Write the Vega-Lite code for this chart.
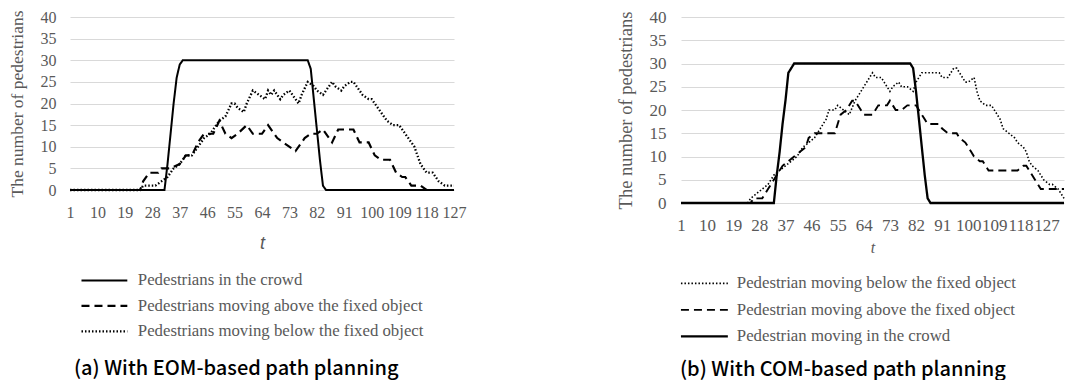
{
  "$schema": "https://vega.github.io/schema/vega-lite/v6.json",
  "background": "white",
  "padding": {"left": 8, "top": 8, "right": 0, "bottom": 0},
  "spacing": 150,
  "config": {
    "view": {"stroke": null},
    "font": "Liberation Serif",
    "axis": {"labelColor": "#595959", "titleColor": "#595959", "labelFont": "Liberation Serif", "titleFont": "Liberation Serif", "ticks": false, "tickSize": 0, "domain": false, "titleFontWeight": "normal", "gridColor": "#d9d9d9", "gridWidth": 1},
    "legend": {"labelColor": "#595959", "labelFont": "Liberation Serif", "orient": "none", "padding": 0, "symbolType": "M-10,0L10,0", "symbolStrokeColor": "black", "symbolStrokeWidth": 2, "labelLimit": 400},
    "title": {"font": "Noto Sans CJK KR", "fontWeight": 500, "color": "#000000", "fontSize": 20}
  },
  "datasets": {
    "a": [
      {"s": "Pedestrians in the crowd", "t": 1, "v": 0},
      {"s": "Pedestrians in the crowd", "t": 32, "v": 0},
      {"s": "Pedestrians in the crowd", "t": 33, "v": 6},
      {"s": "Pedestrians in the crowd", "t": 34, "v": 13},
      {"s": "Pedestrians in the crowd", "t": 35, "v": 20},
      {"s": "Pedestrians in the crowd", "t": 36, "v": 26},
      {"s": "Pedestrians in the crowd", "t": 37, "v": 29},
      {"s": "Pedestrians in the crowd", "t": 38, "v": 30},
      {"s": "Pedestrians in the crowd", "t": 79, "v": 30},
      {"s": "Pedestrians in the crowd", "t": 80, "v": 28},
      {"s": "Pedestrians in the crowd", "t": 81, "v": 21},
      {"s": "Pedestrians in the crowd", "t": 82, "v": 14},
      {"s": "Pedestrians in the crowd", "t": 83, "v": 7},
      {"s": "Pedestrians in the crowd", "t": 84, "v": 1},
      {"s": "Pedestrians in the crowd", "t": 85, "v": 0},
      {"s": "Pedestrians in the crowd", "t": 127, "v": 0},

      {"s": "Pedestrians moving above the fixed object", "t": 1, "v": 0},
      {"s": "Pedestrians moving above the fixed object", "t": 24, "v": 0},
      {"s": "Pedestrians moving above the fixed object", "t": 25, "v": 2},
      {"s": "Pedestrians moving above the fixed object", "t": 27, "v": 4},
      {"s": "Pedestrians moving above the fixed object", "t": 30, "v": 4},
      {"s": "Pedestrians moving above the fixed object", "t": 31, "v": 5},
      {"s": "Pedestrians moving above the fixed object", "t": 34, "v": 5},
      {"s": "Pedestrians moving above the fixed object", "t": 37, "v": 6},
      {"s": "Pedestrians moving above the fixed object", "t": 39, "v": 8},
      {"s": "Pedestrians moving above the fixed object", "t": 41, "v": 8},
      {"s": "Pedestrians moving above the fixed object", "t": 43, "v": 11},
      {"s": "Pedestrians moving above the fixed object", "t": 45, "v": 13},
      {"s": "Pedestrians moving above the fixed object", "t": 48, "v": 13},
      {"s": "Pedestrians moving above the fixed object", "t": 50, "v": 16},
      {"s": "Pedestrians moving above the fixed object", "t": 52, "v": 13},
      {"s": "Pedestrians moving above the fixed object", "t": 54, "v": 12},
      {"s": "Pedestrians moving above the fixed object", "t": 56, "v": 13},
      {"s": "Pedestrians moving above the fixed object", "t": 59, "v": 15},
      {"s": "Pedestrians moving above the fixed object", "t": 61, "v": 13},
      {"s": "Pedestrians moving above the fixed object", "t": 64, "v": 13},
      {"s": "Pedestrians moving above the fixed object", "t": 66, "v": 15},
      {"s": "Pedestrians moving above the fixed object", "t": 69, "v": 12},
      {"s": "Pedestrians moving above the fixed object", "t": 71, "v": 11},
      {"s": "Pedestrians moving above the fixed object", "t": 75, "v": 9},
      {"s": "Pedestrians moving above the fixed object", "t": 78, "v": 12},
      {"s": "Pedestrians moving above the fixed object", "t": 80, "v": 13},
      {"s": "Pedestrians moving above the fixed object", "t": 82, "v": 13},
      {"s": "Pedestrians moving above the fixed object", "t": 84, "v": 14},
      {"s": "Pedestrians moving above the fixed object", "t": 86, "v": 12},
      {"s": "Pedestrians moving above the fixed object", "t": 87, "v": 11},
      {"s": "Pedestrians moving above the fixed object", "t": 89, "v": 14},
      {"s": "Pedestrians moving above the fixed object", "t": 94, "v": 14},
      {"s": "Pedestrians moving above the fixed object", "t": 96, "v": 11},
      {"s": "Pedestrians moving above the fixed object", "t": 99, "v": 11},
      {"s": "Pedestrians moving above the fixed object", "t": 101, "v": 8},
      {"s": "Pedestrians moving above the fixed object", "t": 103, "v": 7},
      {"s": "Pedestrians moving above the fixed object", "t": 106, "v": 7},
      {"s": "Pedestrians moving above the fixed object", "t": 108, "v": 4},
      {"s": "Pedestrians moving above the fixed object", "t": 110, "v": 3},
      {"s": "Pedestrians moving above the fixed object", "t": 111, "v": 3},
      {"s": "Pedestrians moving above the fixed object", "t": 113, "v": 1},
      {"s": "Pedestrians moving above the fixed object", "t": 116, "v": 1},
      {"s": "Pedestrians moving above the fixed object", "t": 118, "v": 0},
      {"s": "Pedestrians moving above the fixed object", "t": 127, "v": 0},

      {"s": "Pedestrians moving below the fixed object", "t": 1, "v": 0},
      {"s": "Pedestrians moving below the fixed object", "t": 24, "v": 0},
      {"s": "Pedestrians moving below the fixed object", "t": 25, "v": 1},
      {"s": "Pedestrians moving below the fixed object", "t": 29, "v": 1},
      {"s": "Pedestrians moving below the fixed object", "t": 31, "v": 2},
      {"s": "Pedestrians moving below the fixed object", "t": 33, "v": 3},
      {"s": "Pedestrians moving below the fixed object", "t": 35, "v": 5},
      {"s": "Pedestrians moving below the fixed object", "t": 37, "v": 6},
      {"s": "Pedestrians moving below the fixed object", "t": 39, "v": 8},
      {"s": "Pedestrians moving below the fixed object", "t": 41, "v": 8},
      {"s": "Pedestrians moving below the fixed object", "t": 43, "v": 10},
      {"s": "Pedestrians moving below the fixed object", "t": 45, "v": 12},
      {"s": "Pedestrians moving below the fixed object", "t": 47, "v": 13},
      {"s": "Pedestrians moving below the fixed object", "t": 49, "v": 15},
      {"s": "Pedestrians moving below the fixed object", "t": 50, "v": 16},
      {"s": "Pedestrians moving below the fixed object", "t": 52, "v": 17},
      {"s": "Pedestrians moving below the fixed object", "t": 54, "v": 20},
      {"s": "Pedestrians moving below the fixed object", "t": 55, "v": 20},
      {"s": "Pedestrians moving below the fixed object", "t": 56, "v": 19},
      {"s": "Pedestrians moving below the fixed object", "t": 58, "v": 18},
      {"s": "Pedestrians moving below the fixed object", "t": 59, "v": 20},
      {"s": "Pedestrians moving below the fixed object", "t": 61, "v": 23},
      {"s": "Pedestrians moving below the fixed object", "t": 63, "v": 22},
      {"s": "Pedestrians moving below the fixed object", "t": 65, "v": 21},
      {"s": "Pedestrians moving below the fixed object", "t": 66, "v": 23},
      {"s": "Pedestrians moving below the fixed object", "t": 67, "v": 22},
      {"s": "Pedestrians moving below the fixed object", "t": 68, "v": 23},
      {"s": "Pedestrians moving below the fixed object", "t": 70, "v": 21},
      {"s": "Pedestrians moving below the fixed object", "t": 71, "v": 22},
      {"s": "Pedestrians moving below the fixed object", "t": 73, "v": 23},
      {"s": "Pedestrians moving below the fixed object", "t": 74, "v": 22},
      {"s": "Pedestrians moving below the fixed object", "t": 76, "v": 20},
      {"s": "Pedestrians moving below the fixed object", "t": 77, "v": 22},
      {"s": "Pedestrians moving below the fixed object", "t": 79, "v": 25},
      {"s": "Pedestrians moving below the fixed object", "t": 81, "v": 24},
      {"s": "Pedestrians moving below the fixed object", "t": 82, "v": 23},
      {"s": "Pedestrians moving below the fixed object", "t": 84, "v": 22},
      {"s": "Pedestrians moving below the fixed object", "t": 85, "v": 23},
      {"s": "Pedestrians moving below the fixed object", "t": 87, "v": 25},
      {"s": "Pedestrians moving below the fixed object", "t": 88, "v": 24},
      {"s": "Pedestrians moving below the fixed object", "t": 90, "v": 23},
      {"s": "Pedestrians moving below the fixed object", "t": 91, "v": 24},
      {"s": "Pedestrians moving below the fixed object", "t": 93, "v": 25},
      {"s": "Pedestrians moving below the fixed object", "t": 94, "v": 25},
      {"s": "Pedestrians moving below the fixed object", "t": 95, "v": 24},
      {"s": "Pedestrians moving below the fixed object", "t": 96, "v": 23},
      {"s": "Pedestrians moving below the fixed object", "t": 97, "v": 22},
      {"s": "Pedestrians moving below the fixed object", "t": 99, "v": 21},
      {"s": "Pedestrians moving below the fixed object", "t": 100, "v": 21},
      {"s": "Pedestrians moving below the fixed object", "t": 102, "v": 19},
      {"s": "Pedestrians moving below the fixed object", "t": 104, "v": 17},
      {"s": "Pedestrians moving below the fixed object", "t": 105, "v": 16},
      {"s": "Pedestrians moving below the fixed object", "t": 107, "v": 15},
      {"s": "Pedestrians moving below the fixed object", "t": 109, "v": 15},
      {"s": "Pedestrians moving below the fixed object", "t": 110, "v": 14},
      {"s": "Pedestrians moving below the fixed object", "t": 111, "v": 13},
      {"s": "Pedestrians moving below the fixed object", "t": 113, "v": 11},
      {"s": "Pedestrians moving below the fixed object", "t": 114, "v": 10},
      {"s": "Pedestrians moving below the fixed object", "t": 115, "v": 8},
      {"s": "Pedestrians moving below the fixed object", "t": 116, "v": 6},
      {"s": "Pedestrians moving below the fixed object", "t": 117, "v": 5},
      {"s": "Pedestrians moving below the fixed object", "t": 118, "v": 4},
      {"s": "Pedestrians moving below the fixed object", "t": 120, "v": 4},
      {"s": "Pedestrians moving below the fixed object", "t": 121, "v": 3},
      {"s": "Pedestrians moving below the fixed object", "t": 122, "v": 2},
      {"s": "Pedestrians moving below the fixed object", "t": 124, "v": 1},
      {"s": "Pedestrians moving below the fixed object", "t": 127, "v": 1}
    ],
    "b": [
      {"s": "Pedestrian moving in the crowd", "t": 1, "v": 0},
      {"s": "Pedestrian moving in the crowd", "t": 33, "v": 0},
      {"s": "Pedestrian moving in the crowd", "t": 34, "v": 6},
      {"s": "Pedestrian moving in the crowd", "t": 35, "v": 11},
      {"s": "Pedestrian moving in the crowd", "t": 36, "v": 17},
      {"s": "Pedestrian moving in the crowd", "t": 37, "v": 22},
      {"s": "Pedestrian moving in the crowd", "t": 38, "v": 28},
      {"s": "Pedestrian moving in the crowd", "t": 39, "v": 29},
      {"s": "Pedestrian moving in the crowd", "t": 40, "v": 30},
      {"s": "Pedestrian moving in the crowd", "t": 80, "v": 30},
      {"s": "Pedestrian moving in the crowd", "t": 81, "v": 29},
      {"s": "Pedestrian moving in the crowd", "t": 82, "v": 24},
      {"s": "Pedestrian moving in the crowd", "t": 83, "v": 18},
      {"s": "Pedestrian moving in the crowd", "t": 84, "v": 12},
      {"s": "Pedestrian moving in the crowd", "t": 85, "v": 6},
      {"s": "Pedestrian moving in the crowd", "t": 86, "v": 1},
      {"s": "Pedestrian moving in the crowd", "t": 87, "v": 0},
      {"s": "Pedestrian moving in the crowd", "t": 133, "v": 0},

      {"s": "Pedestrian moving above the fixed object", "t": 1, "v": 0},
      {"s": "Pedestrian moving above the fixed object", "t": 25, "v": 0},
      {"s": "Pedestrian moving above the fixed object", "t": 26, "v": 1},
      {"s": "Pedestrian moving above the fixed object", "t": 29, "v": 1},
      {"s": "Pedestrian moving above the fixed object", "t": 30, "v": 2},
      {"s": "Pedestrian moving above the fixed object", "t": 31, "v": 3},
      {"s": "Pedestrian moving above the fixed object", "t": 32, "v": 4},
      {"s": "Pedestrian moving above the fixed object", "t": 33, "v": 5},
      {"s": "Pedestrian moving above the fixed object", "t": 34, "v": 6},
      {"s": "Pedestrian moving above the fixed object", "t": 36, "v": 8},
      {"s": "Pedestrian moving above the fixed object", "t": 38, "v": 9},
      {"s": "Pedestrian moving above the fixed object", "t": 40, "v": 10},
      {"s": "Pedestrian moving above the fixed object", "t": 42, "v": 11},
      {"s": "Pedestrian moving above the fixed object", "t": 44, "v": 12},
      {"s": "Pedestrian moving above the fixed object", "t": 45, "v": 14},
      {"s": "Pedestrian moving above the fixed object", "t": 47, "v": 15},
      {"s": "Pedestrian moving above the fixed object", "t": 54, "v": 15},
      {"s": "Pedestrian moving above the fixed object", "t": 55, "v": 17},
      {"s": "Pedestrian moving above the fixed object", "t": 56, "v": 19},
      {"s": "Pedestrian moving above the fixed object", "t": 58, "v": 20},
      {"s": "Pedestrian moving above the fixed object", "t": 60, "v": 22},
      {"s": "Pedestrian moving above the fixed object", "t": 61, "v": 22},
      {"s": "Pedestrian moving above the fixed object", "t": 63, "v": 20},
      {"s": "Pedestrian moving above the fixed object", "t": 64, "v": 19},
      {"s": "Pedestrian moving above the fixed object", "t": 67, "v": 19},
      {"s": "Pedestrian moving above the fixed object", "t": 69, "v": 21},
      {"s": "Pedestrian moving above the fixed object", "t": 72, "v": 21},
      {"s": "Pedestrian moving above the fixed object", "t": 73, "v": 22},
      {"s": "Pedestrian moving above the fixed object", "t": 75, "v": 20},
      {"s": "Pedestrian moving above the fixed object", "t": 77, "v": 20},
      {"s": "Pedestrian moving above the fixed object", "t": 79, "v": 21},
      {"s": "Pedestrian moving above the fixed object", "t": 82, "v": 21},
      {"s": "Pedestrian moving above the fixed object", "t": 83, "v": 20},
      {"s": "Pedestrian moving above the fixed object", "t": 85, "v": 18},
      {"s": "Pedestrian moving above the fixed object", "t": 86, "v": 17},
      {"s": "Pedestrian moving above the fixed object", "t": 90, "v": 17},
      {"s": "Pedestrian moving above the fixed object", "t": 91, "v": 16},
      {"s": "Pedestrian moving above the fixed object", "t": 93, "v": 15},
      {"s": "Pedestrian moving above the fixed object", "t": 96, "v": 15},
      {"s": "Pedestrian moving above the fixed object", "t": 97, "v": 14},
      {"s": "Pedestrian moving above the fixed object", "t": 99, "v": 13},
      {"s": "Pedestrian moving above the fixed object", "t": 100, "v": 12},
      {"s": "Pedestrian moving above the fixed object", "t": 101, "v": 11},
      {"s": "Pedestrian moving above the fixed object", "t": 102, "v": 10},
      {"s": "Pedestrian moving above the fixed object", "t": 104, "v": 9},
      {"s": "Pedestrian moving above the fixed object", "t": 105, "v": 9},
      {"s": "Pedestrian moving above the fixed object", "t": 106, "v": 8},
      {"s": "Pedestrian moving above the fixed object", "t": 107, "v": 7},
      {"s": "Pedestrian moving above the fixed object", "t": 117, "v": 7},
      {"s": "Pedestrian moving above the fixed object", "t": 119, "v": 8},
      {"s": "Pedestrian moving above the fixed object", "t": 120, "v": 8},
      {"s": "Pedestrian moving above the fixed object", "t": 121, "v": 7},
      {"s": "Pedestrian moving above the fixed object", "t": 122, "v": 6},
      {"s": "Pedestrian moving above the fixed object", "t": 123, "v": 5},
      {"s": "Pedestrian moving above the fixed object", "t": 124, "v": 4},
      {"s": "Pedestrian moving above the fixed object", "t": 125, "v": 3},
      {"s": "Pedestrian moving above the fixed object", "t": 133, "v": 3},

      {"s": "Pedestrian moving below the fixed object", "t": 1, "v": 0},
      {"s": "Pedestrian moving below the fixed object", "t": 24, "v": 0},
      {"s": "Pedestrian moving below the fixed object", "t": 25, "v": 1},
      {"s": "Pedestrian moving below the fixed object", "t": 27, "v": 2},
      {"s": "Pedestrian moving below the fixed object", "t": 29, "v": 3},
      {"s": "Pedestrian moving below the fixed object", "t": 31, "v": 4},
      {"s": "Pedestrian moving below the fixed object", "t": 33, "v": 6},
      {"s": "Pedestrian moving below the fixed object", "t": 35, "v": 7},
      {"s": "Pedestrian moving below the fixed object", "t": 37, "v": 8},
      {"s": "Pedestrian moving below the fixed object", "t": 39, "v": 9},
      {"s": "Pedestrian moving below the fixed object", "t": 41, "v": 10},
      {"s": "Pedestrian moving below the fixed object", "t": 43, "v": 12},
      {"s": "Pedestrian moving below the fixed object", "t": 45, "v": 13},
      {"s": "Pedestrian moving below the fixed object", "t": 47, "v": 14},
      {"s": "Pedestrian moving below the fixed object", "t": 49, "v": 16},
      {"s": "Pedestrian moving below the fixed object", "t": 51, "v": 18},
      {"s": "Pedestrian moving below the fixed object", "t": 52, "v": 20},
      {"s": "Pedestrian moving below the fixed object", "t": 54, "v": 20},
      {"s": "Pedestrian moving below the fixed object", "t": 55, "v": 21},
      {"s": "Pedestrian moving below the fixed object", "t": 57, "v": 20},
      {"s": "Pedestrian moving below the fixed object", "t": 59, "v": 19},
      {"s": "Pedestrian moving below the fixed object", "t": 61, "v": 22},
      {"s": "Pedestrian moving below the fixed object", "t": 62, "v": 23},
      {"s": "Pedestrian moving below the fixed object", "t": 64, "v": 25},
      {"s": "Pedestrian moving below the fixed object", "t": 66, "v": 27},
      {"s": "Pedestrian moving below the fixed object", "t": 67, "v": 28},
      {"s": "Pedestrian moving below the fixed object", "t": 68, "v": 27},
      {"s": "Pedestrian moving below the fixed object", "t": 70, "v": 27},
      {"s": "Pedestrian moving below the fixed object", "t": 71, "v": 26},
      {"s": "Pedestrian moving below the fixed object", "t": 73, "v": 24},
      {"s": "Pedestrian moving below the fixed object", "t": 74, "v": 25},
      {"s": "Pedestrian moving below the fixed object", "t": 76, "v": 26},
      {"s": "Pedestrian moving below the fixed object", "t": 77, "v": 25},
      {"s": "Pedestrian moving below the fixed object", "t": 79, "v": 25},
      {"s": "Pedestrian moving below the fixed object", "t": 81, "v": 24},
      {"s": "Pedestrian moving below the fixed object", "t": 82, "v": 26},
      {"s": "Pedestrian moving below the fixed object", "t": 84, "v": 28},
      {"s": "Pedestrian moving below the fixed object", "t": 90, "v": 28},
      {"s": "Pedestrian moving below the fixed object", "t": 91, "v": 27},
      {"s": "Pedestrian moving below the fixed object", "t": 93, "v": 27},
      {"s": "Pedestrian moving below the fixed object", "t": 95, "v": 29},
      {"s": "Pedestrian moving below the fixed object", "t": 96, "v": 29},
      {"s": "Pedestrian moving below the fixed object", "t": 97, "v": 28},
      {"s": "Pedestrian moving below the fixed object", "t": 99, "v": 26},
      {"s": "Pedestrian moving below the fixed object", "t": 100, "v": 26},
      {"s": "Pedestrian moving below the fixed object", "t": 102, "v": 27},
      {"s": "Pedestrian moving below the fixed object", "t": 103, "v": 24},
      {"s": "Pedestrian moving below the fixed object", "t": 104, "v": 22},
      {"s": "Pedestrian moving below the fixed object", "t": 106, "v": 21},
      {"s": "Pedestrian moving below the fixed object", "t": 108, "v": 21},
      {"s": "Pedestrian moving below the fixed object", "t": 110, "v": 19},
      {"s": "Pedestrian moving below the fixed object", "t": 111, "v": 18},
      {"s": "Pedestrian moving below the fixed object", "t": 112, "v": 16},
      {"s": "Pedestrian moving below the fixed object", "t": 114, "v": 15},
      {"s": "Pedestrian moving below the fixed object", "t": 116, "v": 14},
      {"s": "Pedestrian moving below the fixed object", "t": 117, "v": 13},
      {"s": "Pedestrian moving below the fixed object", "t": 119, "v": 12},
      {"s": "Pedestrian moving below the fixed object", "t": 120, "v": 11},
      {"s": "Pedestrian moving below the fixed object", "t": 121, "v": 9},
      {"s": "Pedestrian moving below the fixed object", "t": 122, "v": 8},
      {"s": "Pedestrian moving below the fixed object", "t": 124, "v": 7},
      {"s": "Pedestrian moving below the fixed object", "t": 125, "v": 6},
      {"s": "Pedestrian moving below the fixed object", "t": 126, "v": 5},
      {"s": "Pedestrian moving below the fixed object", "t": 128, "v": 4},
      {"s": "Pedestrian moving below the fixed object", "t": 129, "v": 4},
      {"s": "Pedestrian moving below the fixed object", "t": 131, "v": 3},
      {"s": "Pedestrian moving below the fixed object", "t": 132, "v": 2},
      {"s": "Pedestrian moving below the fixed object", "t": 133, "v": 1}
    ]
  },
  "resolve": {"scale": {"strokeDash": "independent", "strokeWidth": "independent", "x": "independent", "y": "independent"}, "legend": {"strokeDash": "independent"}},
  "hconcat": [
    {
      "width": 384,
      "height": 173,
      "data": {"name": "a"},
      "title": {"text": "(a) With EOM-based path planning", "orient": "bottom", "anchor": "start", "offset": 18, "dx": 66},
      "mark": {"type": "line", "color": "black", "strokeCap": "butt"},
      "encoding": {
        "x": {"field": "t", "type": "quantitative", "scale": {"domain": [1, 127], "nice": false, "zero": false},
          "axis": {"values": [1, 10, 19, 28, 37, 46, 55, 64, 73, 82, 91, 100, 109, 118, 127], "grid": false, "title": "t", "titleFont": "Liberation Sans", "titleFontStyle": "italic", "titleFontSize": 18, "labelFontSize": 16, "labelPadding": 14, "titlePadding": 14, "labelFlush": false, "labelOverlap": false}},
        "y": {"field": "v", "type": "quantitative", "scale": {"domain": [0, 40], "nice": false},
          "axis": {"values": [0, 5, 10, 15, 20, 25, 30, 35, 40], "grid": true, "title": "The number of pedestrians", "titleFontSize": 17.5, "labelFontSize": 16, "labelPadding": 14, "titlePadding": 14}},
        "strokeDash": {"field": "s", "type": "nominal",
          "scale": {"domain": ["Pedestrians in the crowd", "Pedestrians moving above the fixed object", "Pedestrians moving below the fixed object"], "range": [[1, 0], [8, 5], [1.5, 2]]},
          "legend": {"title": null, "legendX": 11, "legendY": 255, "labelFontSize": 16.8, "symbolSize": 21, "symbolOffset": 15, "labelOffset": 25, "rowPadding": 7.5}},
        "strokeWidth": {"field": "s", "type": "nominal",
          "scale": {"domain": ["Pedestrians in the crowd", "Pedestrians moving above the fixed object", "Pedestrians moving below the fixed object"], "range": [2, 2.3, 1.6]},
          "legend": null}
      }
    },
    {
      "width": 383,
      "height": 186,
      "data": {"name": "b"},
      "title": {"text": "(b) With COM-based path planning", "orient": "bottom", "anchor": "start", "offset": 14, "dx": 64},
      "mark": {"type": "line", "color": "black", "strokeCap": "butt"},
      "encoding": {
        "x": {"field": "t", "type": "quantitative", "scale": {"domain": [1, 133], "nice": false, "zero": false},
          "axis": {"values": [1, 10, 19, 28, 37, 46, 55, 64, 73, 82, 91, 100, 109, 118, 127], "grid": false, "title": "t", "titleFontStyle": "italic", "titleFontSize": 16, "labelFontSize": 17, "labelPadding": 14, "titlePadding": 6, "labelFlush": false, "labelOverlap": false}},
        "y": {"field": "v", "type": "quantitative", "scale": {"domain": [0, 40], "nice": false},
          "axis": {"values": [0, 5, 10, 15, 20, 25, 30, 35, 40], "grid": true, "title": "The number of pedestrians", "titleFontSize": 18.5, "labelFontSize": 17, "labelPadding": 15, "titlePadding": 14}},
        "strokeDash": {"field": "s", "type": "nominal",
          "scale": {"domain": ["Pedestrian moving below the fixed object", "Pedestrian moving above the fixed object", "Pedestrian moving in the crowd"], "range": [[1.5, 2], [8, 5], [1, 0]]},
          "legend": {"title": null, "legendX": 0, "legendY": 258, "labelFontSize": 16.8, "symbolSize": 22, "symbolOffset": 15, "labelOffset": 24, "rowPadding": 8.5}},
        "strokeWidth": {"field": "s", "type": "nominal",
          "scale": {"domain": ["Pedestrian moving below the fixed object", "Pedestrian moving above the fixed object", "Pedestrian moving in the crowd"], "range": [1.6, 2.3, 2]},
          "legend": null}
      }
    }
  ]
}
